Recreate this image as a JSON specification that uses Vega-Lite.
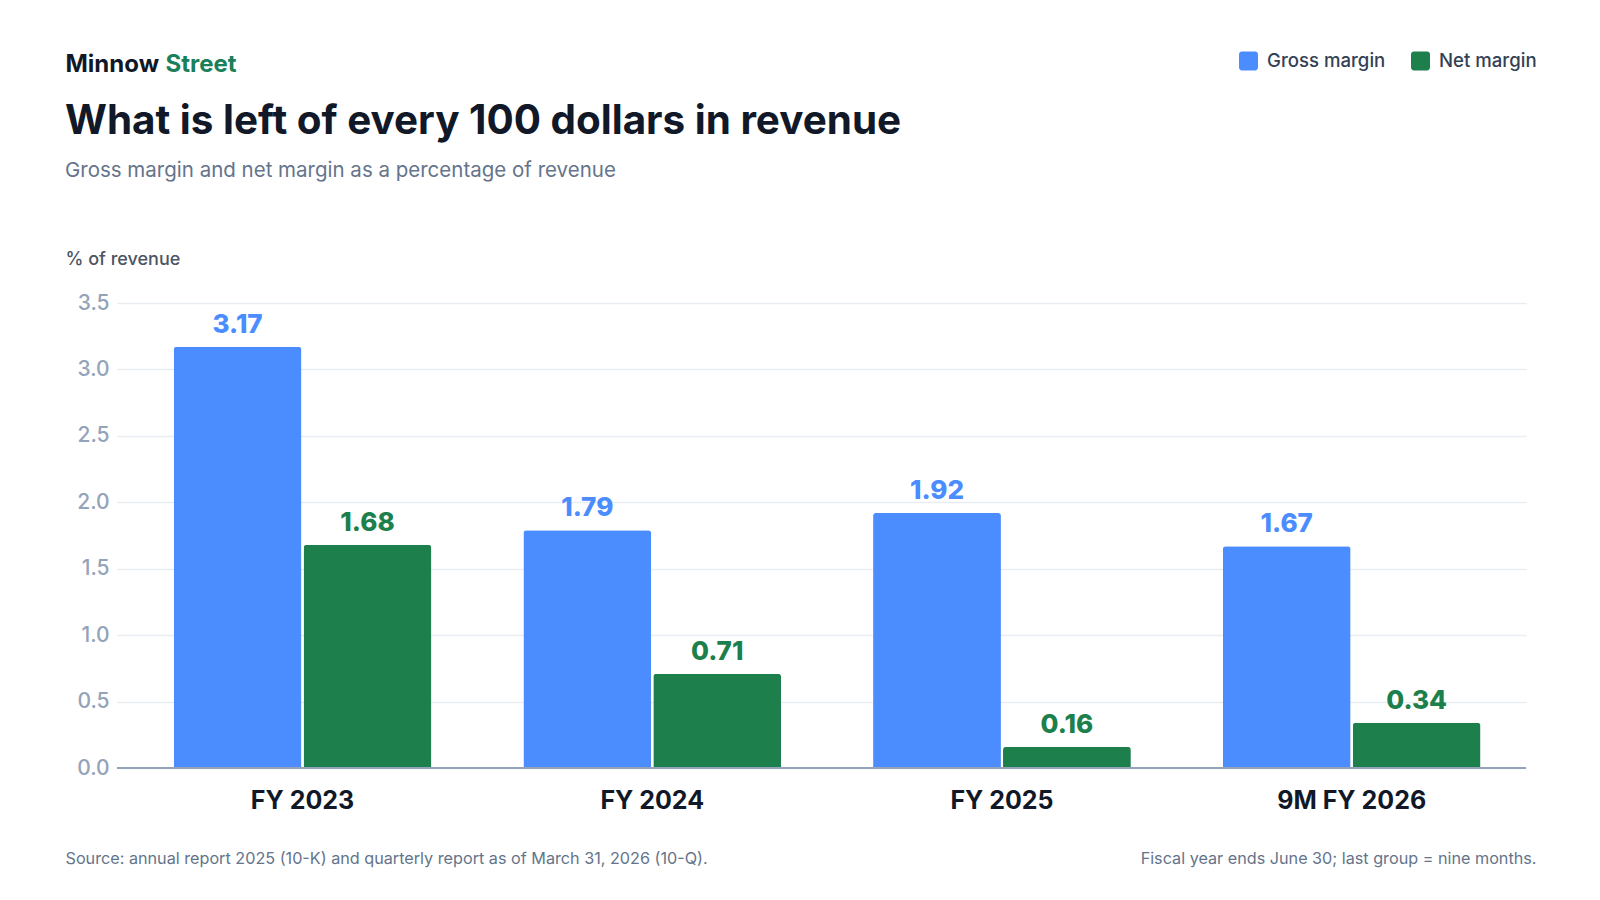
{
  "$schema": "https://vega.github.io/schema/vega-lite/v6.json",
  "description": "Grouped bars: gross margin and net margin as % of revenue by fiscal period.",
  "width": 1409,
  "height": 465,
  "autosize": {"type": "none"},
  "padding": {"left": 117, "top": 303, "right": 74, "bottom": 132},
  "background": "white",
  "title": {
    "text": "What is left of every 100 dollars in revenue",
    "subtitle": "Gross margin and net margin as a percentage of revenue",
    "anchor": "start",
    "frame": "bounds",
    "offset": -130,
    "font": "Inter",
    "fontSize": 40.4,
    "fontWeight": 700,
    "color": "#111827",
    "subtitleFont": "Inter",
    "subtitleFontSize": 20.5,
    "subtitleFontWeight": 400,
    "subtitleColor": "#64748b",
    "subtitlePadding": 18
  },
  "data": {
    "values": [
      {"period": "FY 2023", "series": "Gross margin", "value": 3.17},
      {"period": "FY 2023", "series": "Net margin", "value": 1.68},
      {"period": "FY 2024", "series": "Gross margin", "value": 1.79},
      {"period": "FY 2024", "series": "Net margin", "value": 0.71},
      {"period": "FY 2025", "series": "Gross margin", "value": 1.92},
      {"period": "FY 2025", "series": "Net margin", "value": 0.16},
      {"period": "9M FY 2026", "series": "Gross margin", "value": 1.67},
      {"period": "9M FY 2026", "series": "Net margin", "value": 0.34}
    ]
  },
  "layer": [
    {
      "mark": {"type": "bar", "cornerRadiusTopLeft": 3, "cornerRadiusTopRight": 3},
      "encoding": {
        "x": {
          "field": "period",
          "type": "nominal",
          "sort": ["FY 2023", "FY 2024", "FY 2025", "9M FY 2026"],
          "scale": {"paddingInner": 0.263, "paddingOuter": 0.146, "align": 0.555},
          "axis": {
            "orient": "bottom",
            "title": "Source: annual report 2025 (10-K) and quarterly report as of March 31, 2026 (10-Q).",
            "titleX": -52,
            "titleY": 95,
            "titleAlign": "left",
            "titleBaseline": "alphabetic",
            "titleFontSize": 16.2,
            "titleFontWeight": 400,
            "titleColor": "#64748b",
            "labelFontSize": 25,
            "labelFontWeight": 700,
            "labelColor": "#111827",
            "labelPadding": 40,
            "labelBaseline": "alphabetic",
            "labelAngle": 0,
            "ticks": false,
            "tickSize": 0,
            "domain": false,
            "grid": false
          }
        },
        "xOffset": {
          "field": "series",
          "sort": ["Gross margin", "Net margin"],
          "scale": {"paddingInner": 0.016}
        },
        "y": {
          "field": "value",
          "type": "quantitative",
          "scale": {"domain": [0, 3.5], "nice": false},
          "axis": {
            "orient": "left",
            "values": [0, 0.5, 1, 1.5, 2, 2.5, 3, 3.5],
            "format": ".1f",
            "grid": true,
            "gridColor": "#e9edf2",
            "gridWidth": 1.5,
            "domain": false,
            "ticks": false,
            "labelFontSize": 21,
            "labelFontWeight": 500,
            "labelColor": "#94a3b8",
            "labelPadding": 8,
            "title": "% of revenue",
            "titleAngle": 0,
            "titleX": -52,
            "titleY": -39,
            "titleAlign": "left",
            "titleBaseline": "alphabetic",
            "titleFontSize": 18,
            "titleFontWeight": 500,
            "titleColor": "#4b5563"
          }
        },
        "color": {
          "field": "series",
          "type": "nominal",
          "scale": {"domain": ["Gross margin", "Net margin"], "range": ["#4b8cff", "#1d7f4c"]},
          "legend": {
            "orient": "none",
            "legendX": 1122,
            "legendY": -252,
            "direction": "horizontal",
            "title": null,
            "padding": 0,
            "symbolType": "M-0.7,-1H0.7A0.3,0.3 0 0 1 1,-0.7V0.7A0.3,0.3 0 0 1 0.7,1H-0.7A0.3,0.3 0 0 1 -1,0.7V-0.7A0.3,0.3 0 0 1 -0.7,-1Z",
            "symbolSize": 361,
            "symbolStrokeWidth": 0,
            "symbolOpacity": 1,
            "labelFontSize": 18.6,
            "labelFontWeight": 500,
            "labelColor": "#334155",
            "labelOffset": 9,
            "columnPadding": 25
          }
        }
      }
    },
    {
      "mark": {"type": "text", "dy": -14, "baseline": "alphabetic", "fontSize": 26, "fontWeight": 800},
      "encoding": {
        "x": {
          "field": "period",
          "type": "nominal",
          "sort": ["FY 2023", "FY 2024", "FY 2025", "9M FY 2026"],
          "axis": {
            "orient": "top",
            "labels": false,
            "ticks": false,
            "domain": false,
            "grid": false,
            "title": "Minnow",
            "titleX": -52,
            "titleY": -232,
            "titleAlign": "left",
            "titleBaseline": "alphabetic",
            "titleFontSize": 24,
            "titleFontWeight": 700,
            "titleColor": "#111827"
          }
        },
        "xOffset": {"field": "series", "sort": ["Gross margin", "Net margin"]},
        "y": {
          "field": "value",
          "type": "quantitative",
          "axis": {
            "orient": "right",
            "labels": false,
            "ticks": false,
            "domain": false,
            "grid": false,
            "title": "Fiscal year ends June 30; last group = nine months.",
            "titleAngle": 0,
            "titleX": 10,
            "titleY": 560,
            "titleAlign": "right",
            "titleBaseline": "alphabetic",
            "titleFontSize": 16.2,
            "titleFontWeight": 400,
            "titleColor": "#64748b"
          }
        },
        "text": {"field": "value", "type": "quantitative", "format": ".2f"},
        "color": {"field": "series", "type": "nominal"}
      }
    },
    {
      "data": {"values": [{}]},
      "mark": {"type": "rule", "color": "#94a3b8", "strokeWidth": 2},
      "encoding": {
        "y": {
          "datum": 0,
          "type": "quantitative",
          "axis": {
            "orient": "left",
            "labels": false,
            "ticks": false,
            "domain": false,
            "grid": false,
            "title": "Street",
            "titleAngle": 0,
            "titleX": 48,
            "titleY": -232,
            "titleAlign": "left",
            "titleBaseline": "alphabetic",
            "titleFontSize": 24,
            "titleFontWeight": 700,
            "titleColor": "#1a7f5a"
          }
        }
      }
    }
  ],
  "resolve": {"axis": {"x": "independent", "y": "independent"}},
  "config": {
    "font": "Inter",
    "view": {"stroke": null}
  }
}
